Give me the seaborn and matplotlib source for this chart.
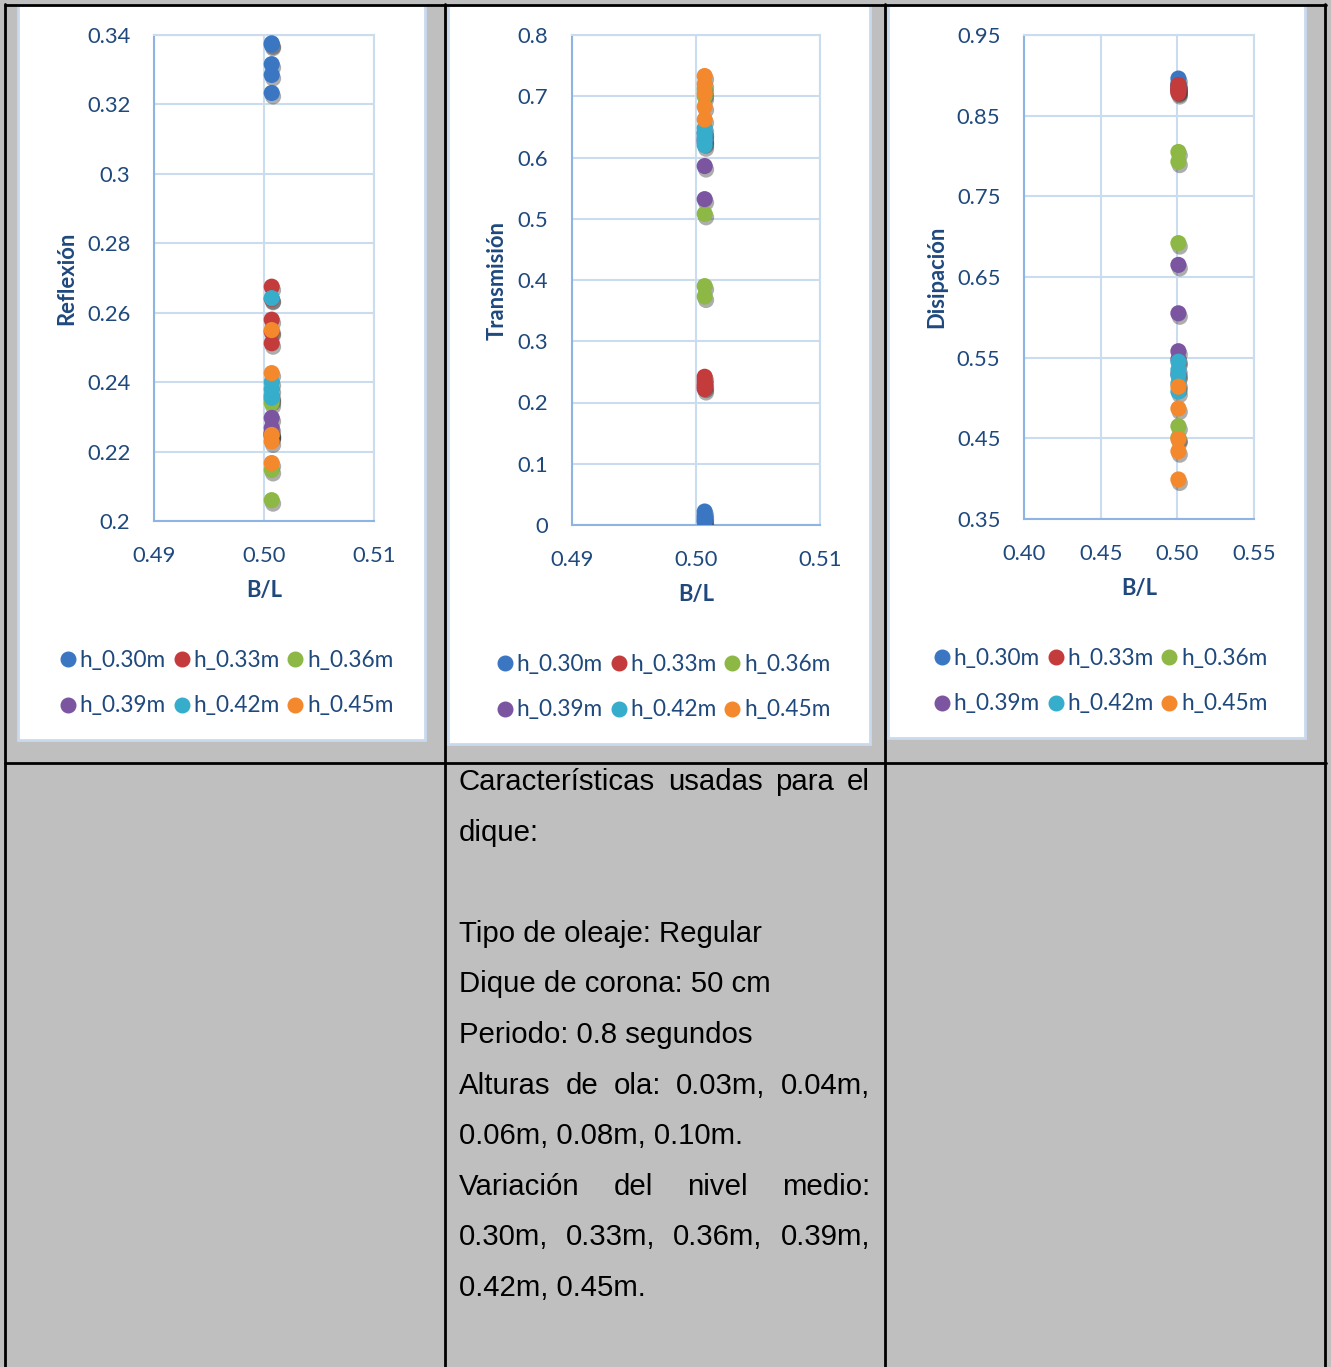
import numpy as np
import pandas as pd
import matplotlib
matplotlib.use("Agg")
import matplotlib.pyplot as plt
import matplotlib.patheffects as pe
from matplotlib.lines import Line2D
from matplotlib.patches import Rectangle
import seaborn as sns

# -------------------------------
# Data
# -------------------------------
series = ["h_0.30m", "h_0.33m", "h_0.36m", "h_0.39m", "h_0.42m", "h_0.45m"]
colors = ["#3A76C2", "#C43B3B", "#8DB845", "#7B55A0", "#36ADCB", "#F4882C"]
bl = [0.5007, 0.5007, 0.5007, 0.5007, 0.5007]

reflexion = [
    [0.3376, 0.3372, 0.3316, 0.3285, 0.3233],
    [0.2675, 0.2640, 0.2580, 0.2545, 0.2512],
    [0.2350, 0.2340, 0.2250, 0.2147, 0.2060],
    [0.2297, 0.2268, 0.2255, 0.2250, 0.2245],
    [0.2642, 0.2400, 0.2380, 0.2362, 0.2355],
    [0.2550, 0.2426, 0.2248, 0.2229, 0.2167],
]
transmision = [
    [0.022, 0.016, 0.012, 0.008, 0.005],
    [0.242, 0.236, 0.230, 0.226, 0.222],
    [0.712, 0.700, 0.508, 0.390, 0.373],
    [0.640, 0.630, 0.625, 0.586, 0.532],
    [0.648, 0.640, 0.634, 0.628, 0.620],
    [0.733, 0.720, 0.705, 0.683, 0.662],
]
disipacion = [
    [0.896, 0.890, 0.887, 0.884, 0.882],
    [0.888, 0.885, 0.882, 0.880, 0.878],
    [0.805, 0.793, 0.692, 0.465, 0.451],
    [0.665, 0.605, 0.558, 0.548, 0.530],
    [0.545, 0.535, 0.528, 0.518, 0.508],
    [0.514, 0.487, 0.449, 0.434, 0.399],
]

refl_yticks = [0.2, 0.22, 0.24, 0.26, 0.28, 0.3, 0.32, 0.34]
refl_ylabels = ["0.2", "0.22", "0.24", "0.26", "0.28", "0.3", "0.32", "0.34"]
trans_yticks = [0, 0.1, 0.2, 0.3, 0.4, 0.5, 0.6, 0.7, 0.8]
trans_ylabels = ["0", "0.1", "0.2", "0.3", "0.4", "0.5", "0.6", "0.7", "0.8"]
dis_yticks = [0.35, 0.45, 0.55, 0.65, 0.75, 0.85, 0.95]
dis_ylabels = ["0.35", "0.45", "0.55", "0.65", "0.75", "0.85", "0.95"]
x_ticks_a = [0.49, 0.50, 0.51]
x_labels_a = ["0.49", "0.50", "0.51"]
x_ticks_b = [0.40, 0.45, 0.50, 0.55]
x_labels_b = ["0.40", "0.45", "0.50", "0.55"]

text_lines = [
    ("Características usadas para el", True),
    ("dique:", False),
    ("", False),
    ("Tipo de oleaje: Regular", False),
    ("Dique de corona: 50 cm", False),
    ("Periodo: 0.8 segundos", False),
    ("Alturas de ola: 0.03m, 0.04m,", True),
    ("0.06m, 0.08m, 0.10m.", False),
    ("Variación del nivel medio:", True),
    ("0.30m, 0.33m, 0.36m, 0.39m,", True),
    ("0.42m, 0.45m.", False),
]

# -------------------------------
# Figure / table layout
# -------------------------------
W, H = 1331, 1367
sns.set_style("white")
plt.rcParams["font.family"] = ["Lato", "DejaVu Sans"]
fig = plt.figure(figsize=(W / 100, H / 100), dpi=100)
fig.patch.set_facecolor("#BFBFBF")

txt_col = "#1F497D"
grid_col = "#CCDCEF"
spine_col = "#8EB4E3"


def rect(x0, y0, x1, y1):
    return [x0 / W, 1 - y1 / H, (x1 - x0) / W, (y1 - y0) / H]


# white chart panels
for x0, y0, x1, y1 in [(18, 5, 425, 740), (448, 5, 870, 744), (888, 5, 1305, 738)]:
    fig.patches.append(Rectangle((x0 / W, 1 - y1 / H), (x1 - x0) / W, (y1 - y0) / H,
                                 transform=fig.transFigure, facecolor="white",
                                 edgecolor="#C9D9EE", linewidth=2, zorder=-1))

# table lines
def hline(y, x0, x1):
    fig.add_artist(Line2D([x0 / W, x1 / W], [1 - y / H, 1 - y / H], color="black", lw=2, zorder=5))


def vline(x, y0, y1):
    fig.add_artist(Line2D([x / W, x / W], [1 - y0 / H, 1 - y1 / H], color="black", lw=2, zorder=5))


hline(5, 5, 1326)
hline(763, 5, 1326)
for xv in [5, 445, 885, 1325]:
    vline(xv, 4, H)

# -------------------------------
# Charts
# -------------------------------
charts = [
    dict(vals=reflexion, pos=(154, 35, 374, 521), ylim=(0.2, 0.34), yt=refl_yticks, yl=refl_ylabels,
         xlim=(0.49, 0.51), xt=x_ticks_a, xl=x_labels_a, ylab="Reflexión", ylab_x=67, xlab_y=591,
         leg=(61, 660)),
    dict(vals=transmision, pos=(572, 35, 820, 525), ylim=(0, 0.8), yt=trans_yticks, yl=trans_ylabels,
         xlim=(0.49, 0.51), xt=x_ticks_a, xl=x_labels_a, ylab="Transmisión", ylab_x=497, xlab_y=595,
         leg=(498, 664)),
    dict(vals=disipacion, pos=(1024, 35, 1254, 519), ylim=(0.35, 0.95), yt=dis_yticks, yl=dis_ylabels,
         xlim=(0.40, 0.55), xt=x_ticks_b, xl=x_labels_b, ylab="Disipación", ylab_x=937, xlab_y=588,
         leg=(935, 658)),
]

# legend fills column by column -> reorder so rows read 0.30, 0.33, 0.36 / 0.39, 0.42, 0.45
leg_order = [0, 3, 1, 4, 2, 5]

for c in charts:
    x0, y0, x1, y1 = c["pos"]
    ax = fig.add_axes(rect(x0, y0, x1, y1))
    ax.set_facecolor("white")
    rows = []
    for name, v in zip(series, c["vals"]):
        for xv, yv in zip(bl, v):
            rows.append((name, xv, yv))
    df = pd.DataFrame(rows, columns=["serie", "BL", "valor"])
    sns.scatterplot(data=df, x="BL", y="valor", hue="serie", palette=colors, s=135,
                    edgecolor="none", legend=False, ax=ax, zorder=3,
                    path_effects=[pe.SimplePatchShadow(offset=(1, -2.5), shadow_rgbFace=(0.2, 0.2, 0.2),
                                                       alpha=0.4), pe.Normal()])
    ax.set_xlim(*c["xlim"])
    ax.set_ylim(*c["ylim"])
    ax.set_xticks(c["xt"])
    ax.set_xticklabels(c["xl"])
    ax.set_yticks(c["yt"])
    ax.set_yticklabels(c["yl"])
    ax.grid(True, color=grid_col, lw=1.5)
    ax.set_axisbelow(True)
    for s in ["top", "right"]:
        ax.spines[s].set_color(grid_col)
        ax.spines[s].set_linewidth(1.5)
    for s in ["left", "bottom"]:
        ax.spines[s].set_color(spine_col)
        ax.spines[s].set_linewidth(1.5)
    ax.tick_params(length=0, labelsize=15.8, labelcolor=txt_col)
    ax.tick_params(axis="y", pad=17)
    ax.tick_params(axis="x", pad=18)
    ax.set_xlabel("")
    ax.set_ylabel("")
    fig.text(c["ylab_x"] / W, 1 - (y0 + y1) / 2 / H, c["ylab"], rotation=90, ha="center",
             va="center", fontsize=15.8, fontweight="bold", color=txt_col)
    fig.text((x0 + x1) / 2 / W, 1 - c["xlab_y"] / H, "B/L", ha="center", va="center",
             fontsize=15.8, fontweight="bold", color=txt_col)
    handles = [Line2D([], [], marker="o", ls="", color=colors[k], markersize=10.5) for k in leg_order]
    labels = [series[k] for k in leg_order]
    lg = ax.legend(handles, labels, loc="upper left", ncol=3, frameon=False,
                   bbox_to_anchor=(c["leg"][0] / W, 1 - (c["leg"][1] - 10) / H),
                   bbox_transform=fig.transFigure, fontsize=16.3, handlelength=0.6,
                   handletextpad=0.22, columnspacing=0.4, labelspacing=1.08, borderpad=0,
                   borderaxespad=0)
    for t in lg.get_texts():
        t.set_color(txt_col)

# -------------------------------
# Text in middle cell (justified lines)
# -------------------------------
renderer = fig.canvas.get_renderer()
left, right = 459, 870
y_first, step = 782, 50.6
for i, (line, justify) in enumerate(text_lines):
    if not line:
        continue
    yf = 1 - (y_first + i * step) / H
    kw = dict(fontsize=21.2, color="black", va="center", family="Liberation Sans")
    if not justify:
        fig.text(left / W, yf, line, ha="left", **kw)
        continue
    words = line.split()
    arts = [fig.text(0, yf, w_, ha="left", **kw) for w_ in words]
    widths = [a.get_window_extent(renderer).width for a in arts]
    gap = (right - left - sum(widths)) / (len(words) - 1)
    xpos = left
    for a, wd in zip(arts, widths):
        a.set_x(xpos / W)
        xpos += wd + gap

fig.savefig("out.png", dpi=100, facecolor=fig.get_facecolor())
